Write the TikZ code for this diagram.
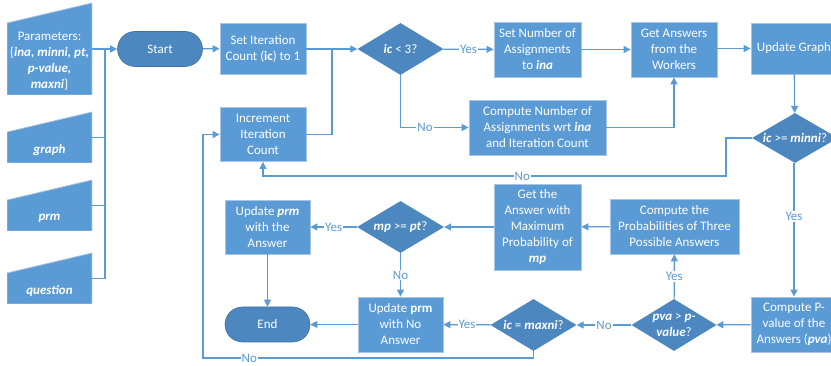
\documentclass[tikz,border=0pt]{standalone}
\usepackage{fontspec}
\setmainfont{Carlito}
\usetikzlibrary{shapes.geometric,arrows.meta}
\definecolor{boxblue}{HTML}{5B9BD5}
\definecolor{darkblue}{HTML}{4D87BF}
\definecolor{rimblue}{HTML}{A9C5E2}
\newcommand{\bfit}[1]{\textbf{\textit{#1}}}
\tikzset{
  base/.style={text=white, font=\fontsize{13}{16}\selectfont, align=center, inner sep=1pt},
  process/.style={base, rectangle, fill=boxblue, draw=rimblue, line width=0.8pt, minimum width=86pt, minimum height=54pt},
  decision/.style={diamond, fill=darkblue, inner sep=0pt, minimum width=86pt, minimum height=52pt},
  dtext/.style={base},
  terminal/.style={base, rectangle, rounded corners=17.5pt, fill=darkblue, draw=darkblue!85!black, line width=0.6pt, minimum width=85pt, minimum height=35pt},
  inshape/.style={minimum width=85pt, inner sep=0pt, path picture={
    \fill[boxblue, draw=rimblue, line width=0.8pt] (path picture bounding box.south west) -- (path picture bounding box.south east)
      -- (path picture bounding box.north east) -- ([yshift=-20pt]path picture bounding box.north west) -- cycle;}},
  line/.style={draw=boxblue, line width=1.2pt},
  arrow/.style={line, -{Triangle[length=7pt,width=7pt]}},
  tag/.style={fill=white, text=boxblue, font=\fontsize{13}{16}\selectfont, inner sep=1pt},
}
\begin{document}
\begin{tikzpicture}[x=1pt,y=-1pt]
\clip (0,0) rectangle (831,366);
\node[inshape, minimum height=92pt] (par) at (49.5,49) {};
\node[dtext] (partext) at (49.5,61.5) {Parameters:\\\{\bfit{ina, minni, pt,}\\\bfit{p-value,}\\\bfit{maxni}\}};
\node[inshape, minimum height=51pt] (graph) at (49.5,137.5) {};
\node[dtext] (graphtext) at (49.5,150) {\bfit{graph}};
\node[inshape, minimum height=51pt] (prm) at (49.5,205.5) {};
\node[dtext] (prmtext) at (49.5,218) {\bfit{prm}};
\node[inshape, minimum height=51pt] (question) at (49.5,278.5) {};
\node[dtext] (questiontext) at (49.5,291) {\bfit{question}};
\coordinate (bus) at (105,49);

\node[terminal] (start) at (160,49) {Start};
\node[process, minimum height=51pt] (setic) at (263,48.5) {Set Iteration\\Count (\textbf{ic}) to 1};
\node[process] (incr) at (263,134.5) {Increment\\Iteration\\Count};
\coordinate (merge) at (332,49);
\node[decision, label={[dtext]center:{\bfit{ic} < 3?}}] (ic3) at (400.5,49) {};
\node[process, minimum width=87pt, minimum height=55pt] (setna) at (537.5,49.5) {Set Number of\\Assignments\\to \bfit{ina}};
\node[process, minimum width=137pt, minimum height=55pt] (compna) at (537.5,127.5) {Compute Number of\\Assignments wrt \bfit{ina}\\and Iteration Count};
\node[process, minimum height=55pt] (getans) at (674,49.5) {Get Answers\\from the\\Workers};
\node[process, minimum height=51pt] (upgraph) at (794,48.5) {Update Graph};
\node[decision, minimum height=50pt, label={[dtext]center:{\bfit{ic} >= \bfit{minni}?}}] (minni) at (795,138) {};
\coordinate (fbA) at (726,176);

\node[process, minimum height=55pt] (pval) at (794,324.5) {Compute P-\\value of the\\Answers (\bfit{pva})};
\node[decision, minimum width=85pt] (pva) at (674,325) {};
\node[dtext] (pvatext) at (pva) {\bfit{pva} > \bfit{p-}\\\bfit{value}?};
\node[process, minimum width=129pt, minimum height=55pt] (prob) at (674.5,226.5) {Compute the\\Probabilities of Three\\Possible Answers};
\node[process, minimum width=87pt, minimum height=86pt] (getmp) at (537.5,227) {Get the\\Answer with\\Maximum\\Probability of\\\bfit{mp}};
\node[decision, minimum width=87pt, label={[dtext]center:{\bfit{mp} >= \bfit{pt}?}}] (mppt) at (400.5,227) {};
\node[process, minimum width=85pt] (updans) at (267.5,227) {Update \bfit{prm}\\with the\\Answer};
\node[terminal] (endn) at (267.5,324.5) {End};
\node[process, minimum width=85pt, minimum height=55pt] (noans) at (400.5,324.5) {Update \textbf{prm}\\with No\\Answer};
\node[decision, label={[dtext]center:{\bfit{ic} = \bfit{maxni}?}}] (maxni) at (533.5,325) {};
\coordinate (fbB) at (203,358);

\draw[arrow] (par.east) -- (start.west);
\draw[line] (graph.east) -| (bus);
\draw[line] (prm.east) -| (bus);
\draw[line] (question.east) -| (bus);
\draw[arrow] (start) -- (setic);
\draw[arrow] (setic.east |- ic3) -- (ic3.west);
\draw[line] (incr.east) -| (merge);
\draw[arrow] (ic3) -- node[tag]{Yes} (setna);
\draw[arrow] (ic3.south) |- node[tag, pos=0.68]{No} (compna.west);
\draw[arrow] (setna) -- (getans);
\draw[arrow] (compna.east) -| (getans.south);
\draw[arrow] (getans.east |- upgraph) -- (upgraph.west);
\draw[arrow] (upgraph) -- (minni);
\draw[arrow] (minni.west) -| (fbA) -| node[tag, pos=0.22]{No} (incr.south);
\draw[arrow] (minni.south -| pval) -- node[tag, pos=0.4]{Yes} (pval.north);
\draw[arrow] (pval) -- (pva);
\draw[arrow] (pva) -- node[tag]{Yes} (prob);
\draw[arrow] (prob) -- (getmp);
\draw[arrow] (getmp) -- (mppt);
\draw[arrow] (mppt) -- node[tag]{Yes} (updans);
\draw[arrow] (mppt) -- node[tag]{No} (noans);
\draw[arrow] (updans) -- (endn);
\draw[arrow] (noans) -- (endn);
\draw[arrow] (pva) -- node[tag]{No} (maxni);
\draw[arrow] (maxni) -- node[tag]{Yes} (noans);
\draw[arrow] (maxni.south) |- node[tag, pos=0.93]{No} (fbB) |- (incr.west);
\end{tikzpicture}
\end{document}
